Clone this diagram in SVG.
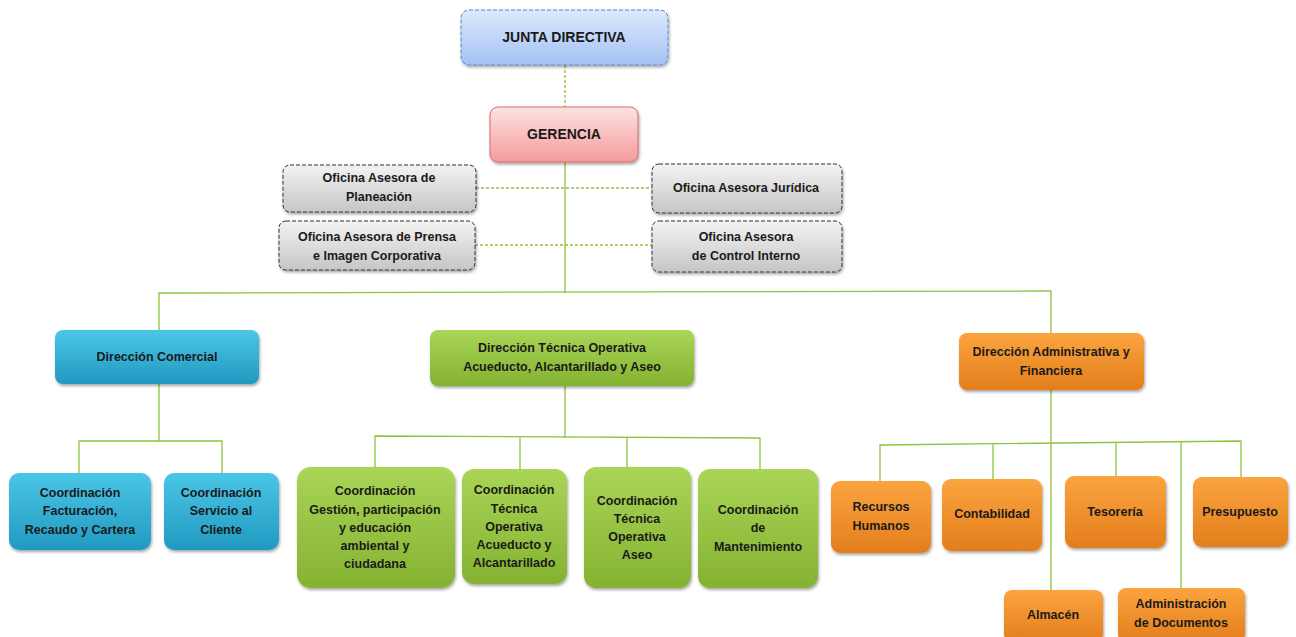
<svg xmlns="http://www.w3.org/2000/svg" width="1296" height="637" viewBox="0 0 1296 637">
<style>
text{font-family:"Liberation Sans",Arial,sans-serif;font-weight:bold;font-size:12.5px;fill:#1a1a1a;text-anchor:middle}
.big{font-size:14px}
.c{fill:none;stroke:#8cc43c;stroke-width:1.3}
.d{fill:none;stroke:#8cc43c;stroke-width:1.3;stroke-dasharray:3 2}
.box{filter:url(#sh)}
</style>
<defs>
<filter id="sh" x="-10%" y="-10%" width="125%" height="130%"><feDropShadow dx="1" dy="2" stdDeviation="1.5" flood-color="#000" flood-opacity="0.35"/></filter>
<linearGradient id="gb" x1="0" y1="0" x2="0" y2="1"><stop offset="0" stop-color="#dde9fd"/><stop offset="1" stop-color="#a3c1f4"/></linearGradient>
<linearGradient id="gr" x1="0" y1="0" x2="0" y2="1"><stop offset="0" stop-color="#fde2e2"/><stop offset="1" stop-color="#f59b9b"/></linearGradient>
<linearGradient id="gg" x1="0" y1="0" x2="0" y2="1"><stop offset="0" stop-color="#f3f3f3"/><stop offset="1" stop-color="#c6c6c6"/></linearGradient>
<linearGradient id="gc" x1="0" y1="0" x2="0" y2="1"><stop offset="0" stop-color="#4ac6e7"/><stop offset="1" stop-color="#2199c0"/></linearGradient>
<linearGradient id="gv" x1="0" y1="0" x2="0" y2="1"><stop offset="0" stop-color="#aad557"/><stop offset="1" stop-color="#84b231"/></linearGradient>
<linearGradient id="go" x1="0" y1="0" x2="0" y2="1"><stop offset="0" stop-color="#fba43f"/><stop offset="1" stop-color="#e37e1c"/></linearGradient>
</defs>
<rect width="1296" height="637" fill="#fff"/>
<g id="connectors">
<path class="d" d="M565 65V107"/>
<path class="c" d="M565 162V293"/>
<path class="d" d="M476 188H652M475 245H652"/>
<path class="c" d="M159 330V293L1051 291V333"/>
<path class="c" d="M159 384V441M79 475V441H222V475"/>
<path class="c" d="M565 386V438M375 468V436L760 438V470M520 437V469M627 437V467"/>
<path class="c" d="M1051 390V590M880 482V445L1241 441V478M993 444V480M1116 442V477M1181 442V590"/>
</g>
<g id="junta"><rect class="box" x="461" y="10" width="207" height="55" rx="8" fill="url(#gb)" stroke="#5b84c8" stroke-dasharray="4 2"/><text class="big" x="564" y="42">JUNTA DIRECTIVA</text></g>
<g id="gerencia"><rect class="box" x="490" y="107" width="148" height="55" rx="8" fill="url(#gr)" stroke="#d96b6b"/><text class="big" x="564" y="139">GERENCIA</text></g>
<g id="planeacion"><rect class="box" x="283" y="165" width="193" height="47" rx="7" fill="url(#gg)" stroke="#333" stroke-dasharray="4 2"/><text x="379" y="182">Oficina Asesora de</text><text x="379" y="201">Planeación</text></g>
<g id="juridica"><rect class="box" x="652" y="164" width="190" height="49" rx="7" fill="url(#gg)" stroke="#333" stroke-dasharray="4 2"/><text x="746" y="192">Oficina Asesora Jurídica</text></g>
<g id="prensa"><rect class="box" x="279" y="221" width="196" height="49" rx="7" fill="url(#gg)" stroke="#333" stroke-dasharray="4 2"/><text x="377" y="241">Oficina Asesora de Prensa</text><text x="377" y="260">e Imagen Corporativa</text></g>
<g id="control"><rect class="box" x="652" y="221" width="190" height="51" rx="7" fill="url(#gg)" stroke="#333" stroke-dasharray="4 2"/><text x="746" y="241">Oficina Asesora</text><text x="746" y="260">de Control Interno</text></g>
<g id="dir-comercial"><rect class="box" x="55" y="330" width="204" height="54" rx="8" fill="url(#gc)"/><text x="157" y="361">Dirección Comercial</text></g>
<g id="dir-tecnica"><rect class="box" x="430" y="330" width="264" height="56" rx="8" fill="url(#gv)"/><text x="562" y="352">Dirección Técnica Operativa</text><text x="562" y="371">Acueducto,  Alcantarillado y Aseo</text></g>
<g id="dir-admin"><rect class="box" x="959" y="333" width="185" height="57" rx="8" fill="url(#go)"/><text x="1051" y="356">Dirección Administrativa y</text><text x="1051" y="375">Financiera</text></g>
<g id="facturacion"><rect class="box" x="9" y="473" width="142" height="77" rx="10" fill="url(#gc)"/><text x="80" y="497">Coordinación</text><text x="80" y="515">Facturación,</text><text x="80" y="534">Recaudo y Cartera</text></g>
<g id="servicio"><rect class="box" x="164" y="473" width="115" height="77" rx="10" fill="url(#gc)"/><text x="221" y="497">Coordinación</text><text x="221" y="515">Servicio al</text><text x="221" y="534">Cliente</text></g>
<g id="gestion"><rect class="box" x="297" y="467" width="158" height="121" rx="14" fill="url(#gv)"/><text x="375" y="495">Coordinación</text><text x="375" y="514">Gestión, participación</text><text x="375" y="532">y educación</text><text x="375" y="550">ambiental y</text><text x="375" y="568">ciudadana</text></g>
<g id="acueducto"><rect class="box" x="462" y="469" width="105" height="115" rx="12" fill="url(#gv)"/><text x="514" y="494">Coordinación</text><text x="514" y="513">Técnica</text><text x="514" y="531">Operativa</text><text x="514" y="549">Acueducto y</text><text x="514" y="567">Alcantarillado</text></g>
<g id="aseo"><rect class="box" x="584" y="467" width="107" height="121" rx="12" fill="url(#gv)"/><text x="637" y="505">Coordinación</text><text x="637" y="523">Técnica</text><text x="637" y="541">Operativa</text><text x="637" y="559">Aseo</text></g>
<g id="mantenimiento"><rect class="box" x="698" y="469" width="120" height="119" rx="12" fill="url(#gv)"/><text x="758" y="514">Coordinación</text><text x="758" y="532">de</text><text x="758" y="551">Mantenimiento</text></g>
<g id="rrhh"><rect class="box" x="831" y="481" width="100" height="72" rx="9" fill="url(#go)"/><text x="881" y="511">Recursos</text><text x="881" y="530">Humanos</text></g>
<g id="contabilidad"><rect class="box" x="942" y="479" width="100" height="72" rx="9" fill="url(#go)"/><text x="992" y="518">Contabilidad</text></g>
<g id="tesoreria"><rect class="box" x="1065" y="476" width="101" height="72" rx="9" fill="url(#go)"/><text x="1115" y="516">Tesorería</text></g>
<g id="presupuesto"><rect class="box" x="1193" y="477" width="95" height="70" rx="9" fill="url(#go)"/><text x="1240" y="516">Presupuesto</text></g>
<g id="almacen"><rect class="box" x="1004" y="590" width="99" height="52" rx="8" fill="url(#go)"/><text x="1053" y="619">Almacén</text></g>
<g id="documentos"><rect class="box" x="1118" y="588" width="127" height="54" rx="8" fill="url(#go)"/><text x="1181" y="608">Administración</text><text x="1181" y="627">de Documentos</text></g>
</svg>
